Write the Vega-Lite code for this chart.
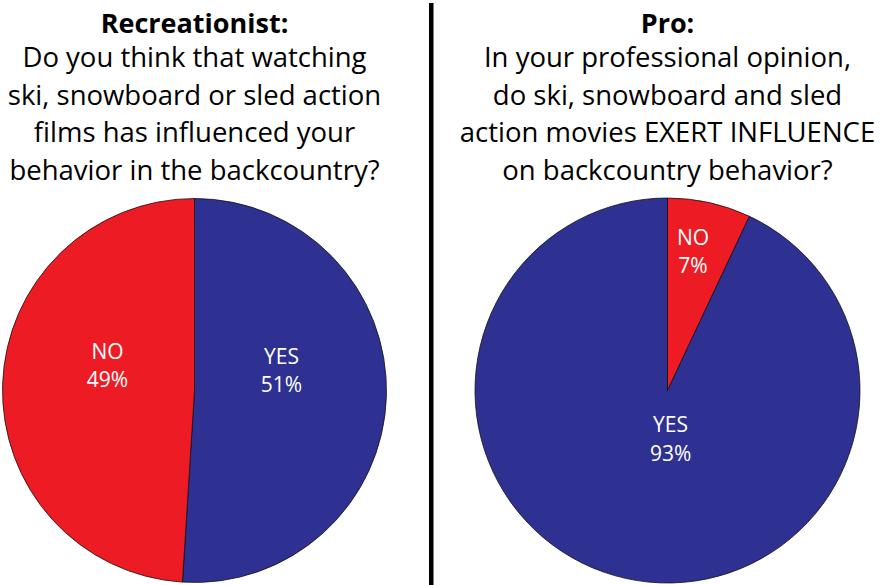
{
  "$schema": "https://vega.github.io/schema/vega-lite/v6.json",
  "padding": 0,
  "background": "white",
  "spacing": 18.75,
  "datasets": {
    "rec": [
      {"answer": "YES", "share": 0.51, "slice": 1},
      {"answer": "NO", "share": 0.49, "slice": 2}
    ],
    "pro": [
      {"answer": "NO", "share": 0.07, "slice": 1},
      {"answer": "YES", "share": 0.93, "slice": 2}
    ]
  },
  "hconcat": [
    {
      "width": 387,
      "height": 389,
      "data": {"name": "rec"},
      "title": {
        "text": "Recreationist:",
        "subtitle": [
          "Do you think that watching",
          "ski, snowboard or sled action",
          "films has influenced your",
          "behavior in the backcountry?"
        ]
      },
      "encoding": {
        "theta": {"field": "share", "type": "quantitative", "stack": true},
        "order": {"field": "slice"},
        "color": {
          "field": "answer",
          "type": "nominal",
          "scale": {"domain": ["YES", "NO"], "range": ["#2E3192", "#ED1C24"]},
          "legend": null
        }
      },
      "layer": [
        {"mark": {"type": "arc", "outerRadius": 192, "stroke": "#111111", "strokeWidth": 0.8}},
        {
          "mark": {"type": "text", "radius": 87, "dy": -35, "fontSize": 21, "fill": "white"},
          "encoding": {"text": {"field": "answer"}}
        },
        {
          "mark": {"type": "text", "radius": 87, "dy": -7, "fontSize": 21, "fill": "white"},
          "encoding": {"text": {"field": "share", "type": "quantitative", "format": ".0%"}}
        }
      ]
    },
    {
      "width": 23.5,
      "height": 389,
      "data": {"values": [{}]},
      "mark": {"type": "rule", "strokeWidth": 4.5, "color": "black"},
      "encoding": {
        "x": {"value": "width"},
        "y": {"value": -193},
        "y2": {"value": "height"}
      }
    },
    {
      "width": 430,
      "height": 389,
      "data": {"name": "pro"},
      "title": {
        "text": "Pro:",
        "subtitle": [
          "In your professional opinion,",
          "do ski, snowboard and sled",
          "action movies EXERT INFLUENCE",
          "on backcountry behavior?"
        ]
      },
      "encoding": {
        "theta": {"field": "share", "type": "quantitative", "stack": true},
        "order": {"field": "slice"},
        "color": {
          "field": "answer",
          "type": "nominal",
          "scale": {"domain": ["YES", "NO"], "range": ["#2E3192", "#ED1C24"]},
          "legend": null
        }
      },
      "layer": [
        {"mark": {"type": "arc", "outerRadius": 192.5, "stroke": "#111111", "strokeWidth": 0.8}},
        {
          "mark": {"type": "text", "radius": 140, "dx": -5, "dy": -15, "fontSize": 21, "fill": "white"},
          "encoding": {
            "text": {"field": "answer"},
            "opacity": {"condition": {"test": "datum.answer === 'NO'", "value": 1}, "value": 0}
          }
        },
        {
          "mark": {"type": "text", "radius": 140, "dx": -5, "dy": 13, "fontSize": 21, "fill": "white"},
          "encoding": {
            "text": {"field": "share", "type": "quantitative", "format": ".0%"},
            "opacity": {"condition": {"test": "datum.answer === 'NO'", "value": 1}, "value": 0}
          }
        },
        {
          "mark": {"type": "text", "radius": 50, "dx": 14, "dy": -13, "fontSize": 21, "fill": "white"},
          "encoding": {
            "text": {"field": "answer"},
            "opacity": {"condition": {"test": "datum.answer === 'YES'", "value": 1}, "value": 0}
          }
        },
        {
          "mark": {"type": "text", "radius": 50, "dx": 14, "dy": 16, "fontSize": 21, "fill": "white"},
          "encoding": {
            "text": {"field": "share", "type": "quantitative", "format": ".0%"},
            "opacity": {"condition": {"test": "datum.answer === 'YES'", "value": 1}, "value": 0}
          }
        }
      ]
    }
  ],
  "config": {
    "view": {"stroke": null},
    "font": "Open Sans",
    "text": {"font": "Open Sans"},
    "title": {
      "font": "Open Sans",
      "fontSize": 27,
      "fontWeight": "bold",
      "color": "black",
      "lineHeight": 37.5,
      "subtitleFont": "Open Sans",
      "subtitleFontSize": 27.5,
      "subtitleFontWeight": "normal",
      "subtitleColor": "black",
      "subtitleLineHeight": 37.5,
      "subtitlePadding": 6,
      "offset": 10,
      "anchor": "middle"
    }
  }
}
